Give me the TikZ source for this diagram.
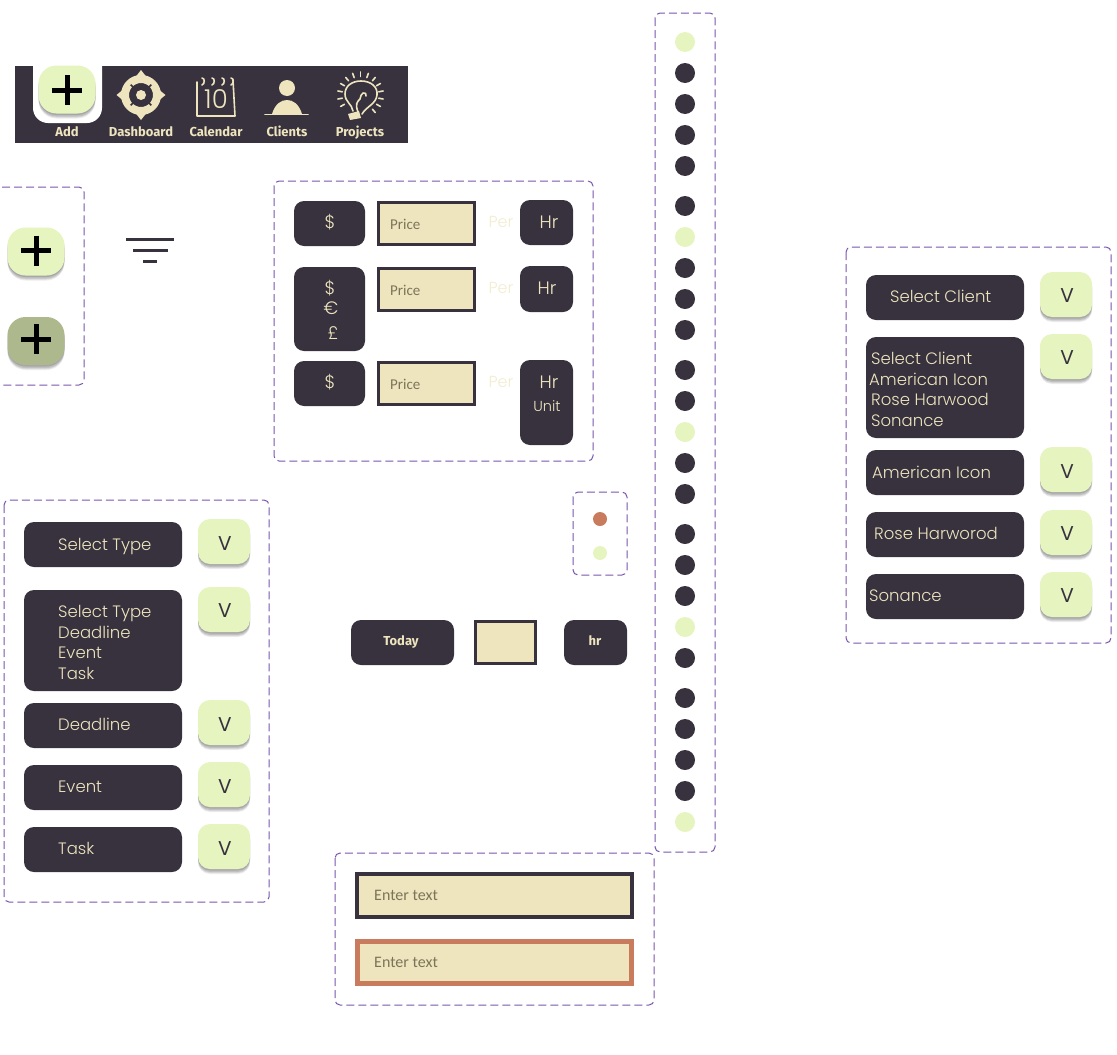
\documentclass[tikz,border=0pt]{standalone}
\usepackage{fontspec}
\setmainfont{Poppins}
\newfontfamily\navfont{Fira Sans}
\newfontfamily\pricefont{Carlito}
\newfontfamily\thinfont{Poppins Light}
\definecolor{ink}{HTML}{37323E}
\definecolor{cream}{HTML}{EEE5BF}
\definecolor{lime}{HTML}{E6F4BF}
\definecolor{olive}{HTML}{AEB88D}
\definecolor{clay}{HTML}{C97B5E}
\definecolor{frame}{HTML}{7A55AE}
\definecolor{hint}{HTML}{7B7458}
\tikzset{
  x=1pt,y=-1pt,
  group/.style={draw=frame,line width=1pt,dash pattern=on 8pt off 4pt,rounded corners=5pt},
  dark/.style={rectangle,fill=ink,rounded corners=10pt,inner sep=0pt,text=cream},
  softshadow/.style={
    preaction={fill=black,fill opacity=.07,transform canvas={yshift=-5pt}},
    preaction={fill=black,fill opacity=.09,transform canvas={yshift=-4pt}},
    preaction={fill=black,fill opacity=.11,transform canvas={yshift=-3pt}},
    preaction={fill=black,fill opacity=.13,transform canvas={yshift=-1.5pt}}},
  limebtn/.style={rectangle,fill=lime,rounded corners=12pt,minimum width=52pt,minimum height=45pt,inner sep=0pt,softshadow},
  vtxt/.style={text=ink,font=\fontsize{20}{20}\selectfont,inner sep=0pt},
  addbtn/.style={rectangle,rounded corners=18pt,minimum width=57pt,minimum height=48pt,inner sep=0pt,softshadow},
  field/.style={rectangle,fill=cream,draw=ink,line width=3pt,inner sep=0pt},
  lbl/.style={text=cream,font=\fontsize{16.5}{16.5}\selectfont\thinfont,inner sep=0pt,anchor=west,text height=15pt,text depth=2pt},
  mid/.style={text=cream,font=\fontsize{18}{18}\selectfont\thinfont,inner sep=0pt},
  hinttxt/.style={text=hint,font=\fontsize{15}{15}\selectfont\pricefont,inner sep=0pt,anchor=west},
  entertxt/.style={text=hint,font=\fontsize{16}{16}\selectfont\pricefont,inner sep=0pt,anchor=west},
  pertxt/.style={text=cream!75,font=\fontsize{16}{16}\selectfont\thinfont,inner sep=0pt},
  navlbl/.style={text=cream,font=\fontsize{13}{13}\selectfont\navfont\bfseries,inner sep=0pt,text height=11pt,text depth=2pt},
  dotdark/.style={circle,fill=ink,minimum size=20pt,inner sep=0pt},
  dotlime/.style={circle,fill=lime,minimum size=20pt,inner sep=0pt},
  smalldot/.style={circle,minimum size=14pt,inner sep=0pt},
  plusbar/.style={line width=5pt,draw=black},
  icon/.style={draw=cream,line width=1.6pt,line cap=round,line join=round},
}
\begin{document}
\begin{tikzpicture}
\useasboundingbox (0,0) rectangle (1117,1055);
% ---------- nav bar
\fill[ink] (15,66) rectangle (408,143);
\fill[white,rounded corners=15pt] (33,66) -- (33,123) -- (102,123) -- (102,66);
\node[addbtn,fill=lime] (navadd) at (67,89.5) {};
\draw[plusbar] (52,90) -- (82,90) (67,75) -- (67,105);
\node[navlbl] (lAdd) at (67,132) {Add};
\node[navlbl] (lDash) at (141,132) {Dashboard};
\node[navlbl] (lCal) at (216,132) {Calendar};
\node[navlbl] (lCli) at (287,132) {Clients};
\node[navlbl] (lPro) at (360,132) {Projects};
% target icon
\draw[cream,line width=8pt] (141,95) circle[radius=16];
\fill[cream] (141,95) circle[radius=5];
\fill[cream] (141,70) -- (148,79) -- (134,79) -- cycle (141,120) -- (148,111) -- (134,111) -- cycle
 (116.5,95) -- (125,88) -- (125,102) -- cycle (165.5,95) -- (157,88) -- (157,102) -- cycle;
\foreach \a in {0,90,180,270}{\draw[ink,line width=1.5pt] (141,95) ++(\a+45:11.5) -- ++(\a+45:3);}
% calendar icon
\draw[icon] (197,82) -- (197,116) -- (235,116) -- (233,80);
\foreach \x in {202,212,222,231}{\draw[icon] (\x,78) .. controls (\x+3,78) and (\x+3,84) .. (\x,85);}
\node[inner sep=0pt,text=cream,font=\fontsize{26}{26}\selectfont\thinfont] (calnum) at (216,99) {10};
% client icon
\fill[cream] (287,88) circle[radius=8];
\fill[cream] (272,114) .. controls (275,104) and (281,100) .. (287,100) .. controls (293,100) and (299,104) .. (302,114) -- cycle;
\draw[icon] (265,114.5) -- (308,114.5);
% projects icon
\draw[icon] (353,111) .. controls (352,104) and (345,102) .. (345,94) .. controls (345,86) and (352,81) .. (361,81) .. controls (371,81) and (378,87) .. (377,95) .. controls (376,104) and (367,106) .. (362,114);
\draw[icon] (358,112) .. controls (355,104) and (357,102) .. (360,99) .. controls (362,96) and (360,94) .. (363,93) .. controls (365,92) and (367,94) .. (366,96);
\fill[cream] (348,114) -- (359,111) -- (361,118) -- (350,120) -- cycle;
\foreach \a in {-170,-150,-130,-110,-90,-70,-50,-30,-10,10,30,50,150,170}{\draw[icon] (360.5,95) ++(\a:18.5) -- ++(\a:4.5);}
% ---------- add button states
\draw[group] (-10,187) -- (84,187) -- (84,385) -- (-10,385);
\node[addbtn,fill=olive] (addB) at (36,341) {};
\draw[plusbar] (21,339) -- (51,339) (36,324) -- (36,354);
\node[addbtn,fill=lime] (addA) at (36,251.5) {};
\draw[plusbar] (21,250.5) -- (51,250.5) (36,235.5) -- (36,265.5);
% filter icon
\draw[ink,line width=3pt] (126,239) -- (174,239) (133,250) -- (168,250) (143,261) -- (157,261);
% ---------- price group
\draw[group] (274,181) rectangle (593,461);
\node[dark,minimum width=71pt,minimum height=45pt] (d1) at (329.5,223.5) {};
\node[mid] (d1t) at (330,222) {\$};
\node[field,minimum width=96pt,minimum height=42pt] (p1) at (426.5,223.5) {};
\node[hinttxt] (p1t) at (390,224) {Price};
\node[pertxt] (per1) at (501,222) {Per};
\node[dark,minimum width=53pt,minimum height=45pt] (h1) at (546.5,222.5) {};
\node[mid] (h1t) at (549,222.5) {Hr};
\node[dark,minimum width=71pt,minimum height=84pt] (d2) at (329.5,309) {};
\node[mid] (d2a) at (330,288) {\$};
\node[mid] (d2b) at (331,308) {€};
\node[mid] (d2c) at (333,333) {£};
\node[field,minimum width=96pt,minimum height=42pt] (p2) at (426.5,289.5) {};
\node[hinttxt] (p2t) at (390,290) {Price};
\node[pertxt] (per2) at (501,288) {Per};
\node[dark,minimum width=53pt,minimum height=46pt] (h2) at (546.5,289) {};
\node[mid] (h2t) at (547,288.5) {Hr};
\node[dark,minimum width=71pt,minimum height=45pt] (d3) at (329.5,383.5) {};
\node[mid] (d3t) at (330,382) {\$};
\node[field,minimum width=96pt,minimum height=42pt] (p3) at (426.5,383.5) {};
\node[hinttxt] (p3t) at (390,384) {Price};
\node[pertxt] (per3) at (501,382) {Per};
\node[dark,minimum width=53pt,minimum height=85pt] (h3) at (546.5,402.5) {};
\node[mid] (h3t) at (549,382.5) {Hr};
\node[mid,font=\fontsize{14.5}{14.5}\selectfont\thinfont] (h3u) at (547,406) {Unit};
% ---------- status dots
\draw[group] (573,492) rectangle (627,575);
\node[smalldot,fill=clay] (sd1) at (600,519) {};
\node[smalldot,fill=lime] (sd2) at (600,553) {};
% ---------- today row
\node[dark,minimum width=103pt,minimum height=45pt] (today) at (402.5,642.5) {};
\node[navlbl] (todayt) at (401,641) {Today};
\node[field,minimum width=60pt,minimum height=42pt] (tbox) at (505.5,642.5) {};
\node[dark,minimum width=63pt,minimum height=45pt] (hr) at (595.5,642.5) {};
\node[navlbl] (hrt) at (595,641) {hr};
% ---------- type list
\draw[group] (4,500) rectangle (269,902);
\node[dark,minimum width=158pt,minimum height=45pt] (t1) at (103,544.5) {};
\node[lbl] (t1t) at (58,543.5) {Select Type};
\node[dark,minimum width=158pt,minimum height=101pt] (t2) at (103,640.5) {};
\node[lbl] (t2a) at (58,611) {Select Type};
\node[lbl] (t2b) at (58,632) {Deadline};
\node[lbl] (t2c) at (58,652) {Event};
\node[lbl] (t2d) at (58,673) {Task};
\node[dark,minimum width=158pt,minimum height=45pt] (t3) at (103,725.5) {};
\node[lbl] (t3t) at (58,724) {Deadline};
\node[dark,minimum width=158pt,minimum height=45pt] (t4) at (103,787.5) {};
\node[lbl] (t4t) at (58,786) {Event};
\node[dark,minimum width=158pt,minimum height=45pt] (t5) at (103,849.5) {};
\node[lbl] (t5t) at (58,848) {Task};
\foreach \n/\y/\ty in {a/541.5/544,b/609.5/611,c/722.5/725,d/784.5/787,e/846.5/849}{
  \node[limebtn] (tv\n) at (224,\y) {};
  \node[vtxt] (tvt\n) at (225,\ty) {V};
}
% ---------- client list
\draw[group] (846,247) rectangle (1111,643);
\node[dark,minimum width=158pt,minimum height=45pt] (c1) at (945,297.5) {};
\node[lbl] (c1t) at (890,296) {Select Client};
\node[dark,minimum width=158pt,minimum height=101pt] (c2) at (945,387.5) {};
\node[lbl] (c2a) at (871,358) {Select Client};
\node[lbl] (c2b) at (869,379) {American Icon};
\node[lbl] (c2c) at (871,399) {Rose Harwood};
\node[lbl] (c2d) at (871,420) {Sonance};
\node[dark,minimum width=158pt,minimum height=45pt] (c3) at (945,472.5) {};
\node[lbl] (c3t) at (872,472) {American Icon};
\node[dark,minimum width=158pt,minimum height=45pt] (c4) at (945,534.5) {};
\node[lbl] (c4t) at (874,533) {Rose Harworod};
\node[dark,minimum width=158pt,minimum height=45pt] (c5) at (945,596.5) {};
\node[lbl] (c5t) at (869,595) {Sonance};
\foreach \n/\y/\ty in {a/294.5/296,b/356.5/358,c/469.5/472,d/532.5/534,e/594.5/596}{
  \node[limebtn] (cv\n) at (1066,\y) {};
  \node[vtxt] (cvt\n) at (1067,\ty) {V};
}
% ---------- text fields
\draw[group] (335,853) rectangle (654,1005);
\node[field,line width=4pt,minimum width=275pt,minimum height=43pt] (f1) at (494.5,895.5) {};
\node[entertxt] (f1t) at (374,895) {Enter text};
\node[field,draw=clay,line width=5pt,minimum width=274pt,minimum height=42pt] (f2) at (494.5,962.5) {};
\node[entertxt] (f2t) at (374,962) {Enter text};
% ---------- dot strip
\draw[group] (655,13) rectangle (715,852);
\foreach \i/\y/\s in {1/42/dotlime,2/73/dotdark,3/104/dotdark,4/135/dotdark,5/166/dotdark,
  6/206/dotdark,7/237/dotlime,8/268/dotdark,9/299/dotdark,10/330/dotdark,
  11/370/dotdark,12/401/dotdark,13/432/dotlime,14/463/dotdark,15/494/dotdark,
  16/534/dotdark,17/565/dotdark,18/596/dotdark,19/627/dotlime,20/658/dotdark,
  21/698/dotdark,22/729/dotdark,23/760/dotdark,24/791/dotdark,25/822/dotlime}{
  \node[\s] (dot\i) at (685,\y) {};
}
\end{tikzpicture}
\end{document}
